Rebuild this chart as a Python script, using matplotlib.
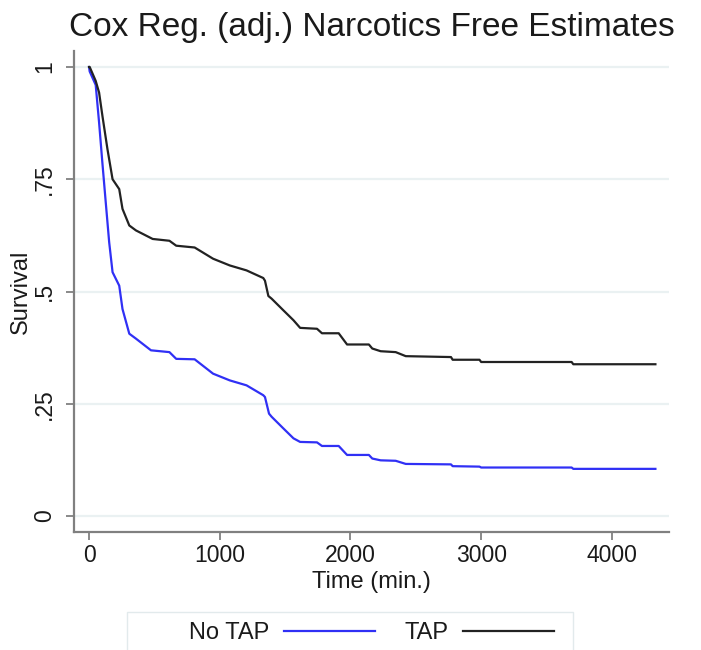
"""Cox regression (adjusted) survival curves — narcotics free estimates"""

import matplotlib
matplotlib.use("Agg")

import matplotlib.pyplot as plt
from matplotlib.patches import Rectangle
from matplotlib.transforms import blended_transform_factory

# 读图得到的数据 (time in minutes, survival)
tap_time = [0, 5, 51, 77, 103, 141, 180, 231, 256, 308, 359, 487, 615, 667,
            808, 949, 1077, 1205, 1333, 1346, 1372, 1397, 1487, 1564, 1615,
            1744, 1782, 1910, 1974, 2141, 2167, 2231, 2346, 2423, 2769, 2782,
            2987, 3000, 3692, 3705, 4333]
tap_surv = [1.0, 1.0, 0.969, 0.943, 0.89, 0.817, 0.75, 0.728, 0.684, 0.647,
            0.636, 0.617, 0.613, 0.602, 0.598, 0.573, 0.558, 0.547, 0.530,
            0.524, 0.49, 0.484, 0.458, 0.436, 0.419, 0.417, 0.407, 0.407,
            0.382, 0.382, 0.373, 0.367, 0.365, 0.356, 0.354, 0.348, 0.348,
            0.343, 0.343, 0.338, 0.338]

notap_time = [0, 5, 51, 77, 102, 128, 154, 180, 231, 256, 308, 359, 474, 615,
              667, 808, 949, 1077, 1205, 1333, 1346, 1377, 1397, 1487, 1564,
              1615, 1744, 1782, 1910, 1974, 2141, 2167, 2231, 2346, 2423, 2769,
              2782, 2987, 3000, 3692, 3705, 4333]
notap_surv = [1.0, 0.99, 0.96, 0.876, 0.787, 0.698, 0.61, 0.543, 0.513, 0.461,
              0.406, 0.395, 0.369, 0.365, 0.350, 0.349, 0.317, 0.302, 0.291,
              0.269, 0.265, 0.228, 0.221, 0.195, 0.173, 0.165, 0.164, 0.156,
              0.156, 0.136, 0.136, 0.128, 0.124, 0.123, 0.116, 0.115, 0.111,
              0.110, 0.108, 0.108, 0.105, 0.105]

x_ticks = [0, 1000, 2000, 3000, 4000]
y_ticks = [0, 0.25, 0.5, 0.75, 1]
y_tick_labels = ["0", ".25", ".5", ".75", "1"]

plt.rcParams["font.family"] = ["Liberation Sans", "DejaVu Sans"]

axis_color = "#808080"
grid_color = "#eaf1f2"
text_color = "#1a1a1a"

fig = plt.figure(figsize=(7.01, 6.5), dpi=100)
ax = fig.add_axes([74 / 701, 118 / 650, 595 / 701, 481 / 650])

l1, = ax.plot(notap_time, notap_surv, color="#3030f5", lw=1.6, label="No TAP")
l2, = ax.plot(tap_time, tap_surv, color="#222222", lw=1.6, label="TAP")

ax.set_xlim(-115, 4437)
ax.set_ylim(-0.0356, 1.0356)

ax.set_xticks(x_ticks)
ax.set_yticks(y_ticks, [""] * len(y_ticks))
# 纵轴刻度文字竖排
ytrans = blended_transform_factory(ax.transAxes, ax.transData)
for val, lab in zip(y_ticks, y_tick_labels):
    ax.text(-0.049, val, lab, transform=ytrans, rotation=90, ha="center",
            va="center", fontsize=16.5, color=text_color)

ax.grid(axis="y", color=grid_color, lw=1.6)
ax.set_axisbelow(True)

for side in ["top", "right"]:
    ax.spines[side].set_visible(False)
for side in ["left", "bottom"]:
    ax.spines[side].set_color(axis_color)
    ax.spines[side].set_linewidth(1.6)

ax.tick_params(axis="both", colors=axis_color, length=6, width=1.3,
               labelsize=16.5, labelcolor=text_color)
ax.tick_params(axis="x", pad=3)

ax.set_xlabel("Time (min.)", fontsize=17, color=text_color)
ax.xaxis.set_label_coords(0.5, -0.081)
ax.set_ylabel("Survival", fontsize=17, color=text_color)
ax.yaxis.set_label_coords(-0.071, 0.5)

fig.text(0.531, 1 - 36 / 650, "Cox Reg. (adj.) Narcotics Free Estimates",
         ha="center", va="baseline", fontsize=24, color=text_color)

# 图例框 (延伸到图片底部以外)
fig.patches.append(Rectangle((127 / 701, -0.02), 446 / 701, 0.02 + 38 / 650,
                             transform=fig.transFigure, fill=False,
                             edgecolor="#e2eaec", lw=1.0))
fig.legend(handles=[l1, l2], loc="center", bbox_to_anchor=(0.53, 17 / 650),
           ncol=2, frameon=False, markerfirst=False, fontsize=17,
           handlelength=3.85, handletextpad=0.64, columnspacing=1.23,
           labelcolor=text_color)

fig.savefig("out.png", dpi=100)
plt.close(fig)
